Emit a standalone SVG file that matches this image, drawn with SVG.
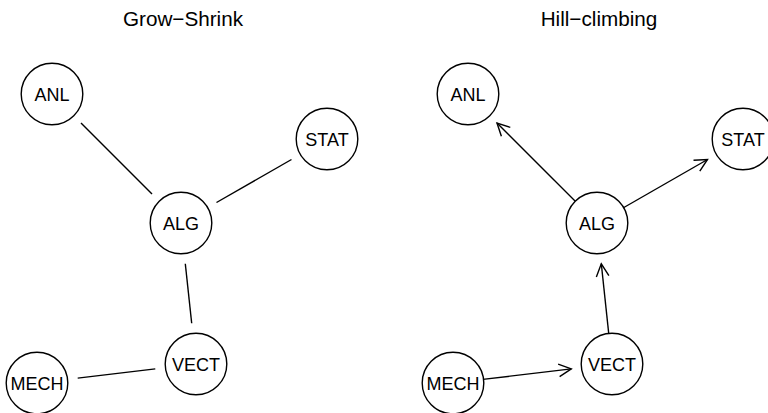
<svg xmlns="http://www.w3.org/2000/svg" width="768" height="413" viewBox="0 0 768 413">
  <defs>
    <style>
      .node circle { fill: #fff; stroke: #000; stroke-width: 1.4; }
      .node text { font-family: "Liberation Sans", Arial, sans-serif; font-size: 18px; text-anchor: middle; fill: #000; }
      .title { font-family: "Liberation Sans", Arial, sans-serif; font-size: 20.7px; text-anchor: middle; fill: #000; }
      .edges line { stroke: #000; stroke-width: 1.4; fill: none; }
      .edges .dir { marker-end: url(#head); }
    </style>
    <marker id="head" markerUnits="userSpaceOnUse" markerWidth="20" markerHeight="20" viewBox="-15 -10 20 20" refX="0" refY="0" orient="auto" overflow="visible">
      <path d="M-12.5,-6.3 L0,0 L-12.5,6.3" fill="none" stroke="#000" stroke-width="1.4"/>
    </marker>
  </defs>
  <rect width="768" height="413" fill="#fff"/>

  <!-- panel titles -->
  <text class="title" x="183" y="25.5">Grow−Shrink</text>
  <text class="title" x="599" y="25.5">Hill−climbing</text>

  <!-- connectors -->
  <g id="edges" class="edges">
    <!-- undirected skeleton -->
    <line x1="81" y1="123" x2="152" y2="194"/>
    <line x1="216.5" y1="202.5" x2="291.5" y2="159.5"/>
    <line x1="185.3" y1="263.8" x2="191.7" y2="323.2"/>
    <line x1="77.7" y1="378.1" x2="155.3" y2="368.9"/>
    <!-- directed network -->
    <line class="dir" x1="575.8" y1="201.8" x2="497" y2="123"/>
    <line class="dir" x1="623" y1="208" x2="707.5" y2="159.5"/>
    <line class="dir" x1="608.8" y1="334.2" x2="601.3" y2="263.8"/>
    <line class="dir" x1="482.8" y1="379.4" x2="571.3" y2="368.9"/>
  </g>

  <!-- Grow-Shrink nodes -->
  <g id="gs-ANL" class="node"><circle cx="52" cy="94" r="30.8"/><text x="52" y="100.5">ANL</text></g>
  <g id="gs-STAT" class="node"><circle cx="327" cy="139" r="30.8"/><text x="327" y="145.5">STAT</text></g>
  <g id="gs-ALG" class="node"><circle cx="181" cy="223" r="30.8"/><text x="181" y="229.5">ALG</text></g>
  <g id="gs-VECT" class="node"><circle cx="196" cy="364" r="30.8"/><text x="196" y="370.5">VECT</text></g>
  <g id="gs-MECH" class="node"><circle cx="37" cy="383" r="30.8"/><text x="37" y="389.5">MECH</text></g>

  <!-- Hill-climbing nodes -->
  <g id="hc-ANL" class="node"><circle cx="468" cy="94" r="30.8"/><text x="468" y="100.5">ANL</text></g>
  <g id="hc-STAT" class="node"><circle cx="743" cy="139" r="30.8"/><text x="743" y="145.5">STAT</text></g>
  <g id="hc-ALG" class="node"><circle cx="597" cy="223" r="30.8"/><text x="597" y="229.5">ALG</text></g>
  <g id="hc-VECT" class="node"><circle cx="612" cy="364" r="30.8"/><text x="612" y="370.5">VECT</text></g>
  <g id="hc-MECH" class="node"><circle cx="453" cy="383" r="30.8"/><text x="453" y="389.5">MECH</text></g>
</svg>
